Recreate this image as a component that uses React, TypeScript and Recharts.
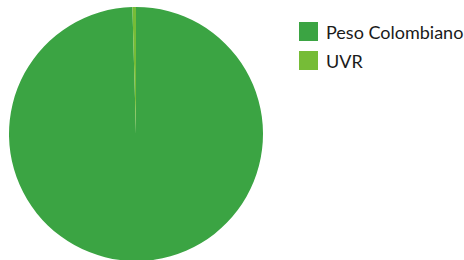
import React from 'react';
import { PieChart, Pie, Cell, Legend } from 'recharts';

const categories = ['Peso Colombiano', 'UVR'];
const values = [99.55, 0.45];
const colors = ['#3BA443', '#76BC37'];

const data = categories.map((name, i) => ({ name, value: values[i] }));

const renderLegend = () => (
  <div style={{ fontFamily: 'Lato, sans-serif', fontSize: 18, color: '#1a1a1a' }}>
    {categories.map((c, i) => (
      <div key={c} style={{ display: 'flex', alignItems: 'center', height: 29 }}>
        <div style={{ width: 19, height: 19, background: colors[i], marginRight: 8, flex: 'none' }} />
        <span style={{ whiteSpace: 'nowrap' }}>{c}</span>
      </div>
    ))}
  </div>
);

export default function App() {
  return (
    <div style={{ position: 'absolute', left: 0, top: 0, width: 464, height: 260, background: '#fff' }}>
      <PieChart width={464} height={260} margin={{ top: 0, right: 0, bottom: 0, left: 0 }}>
        <Pie
          data={data}
          dataKey="value"
          nameKey="name"
          cx={136}
          cy={134}
          outerRadius={127}
          startAngle={90}
          endAngle={-270}
          stroke="none"
          isAnimationActive={false}
        >
          {data.map((d, i) => (
            <Cell key={d.name} fill={colors[i]} />
          ))}
        </Pie>
        <Legend
          layout="vertical"
          verticalAlign="top"
          align="right"
          content={renderLegend}
          wrapperStyle={{ left: 299, top: 17, width: 170 }}
        />
      </PieChart>
    </div>
  );
}
